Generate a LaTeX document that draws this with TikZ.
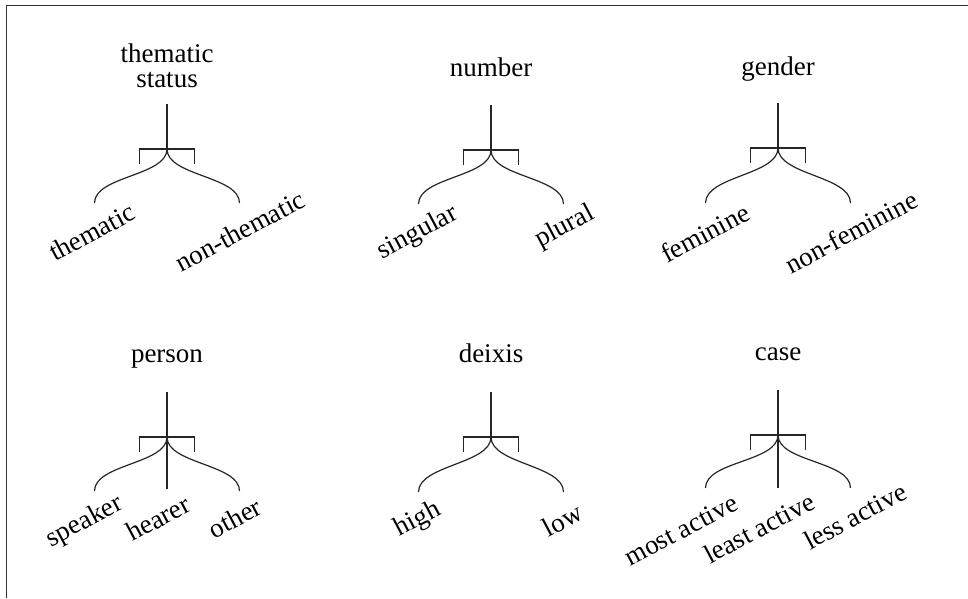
\documentclass[tikz,border=0pt]{standalone}
\usepackage{fontspec}
\setmainfont{Liberation Serif}
\tikzset{
  treeline/.style={line width=1.2pt, draw=black!85},
  framestyle/.style={line width=1.6pt, draw=black!80},
  head/.style={inner sep=0pt, anchor=base, align=center, font=\fontsize{27}{25}\selectfont},
  lbl/.style={inner sep=0pt, rotate=28, font=\fontsize{27}{27}\selectfont}
}
\newcommand\brtree[4]{% name, x, bracket y, curve end y
  \coordinate (#1top) at (#2,#3-45);
  \coordinate (#1j) at (#2,#3);
  \coordinate (#1bl) at (#2-27.5,#3);
  \coordinate (#1br) at (#2+27.5,#3);
  \coordinate (#1tl) at (#2-27.5,#3+15);
  \coordinate (#1tr) at (#2+27.5,#3+15);
  \coordinate (#1l) at (#2-72.5,#4);
  \coordinate (#1r) at (#2+72.5,#4);
  \draw[treeline] (#1top) -- (#1j);
  \draw[treeline] (#1tl) -- (#1bl) -- (#1br) -- (#1tr);
  \draw[treeline] (#1j) .. controls +(0,27) and +(0,-27) .. (#1l);
  \draw[treeline] (#1j) .. controls +(0,27) and +(0,-27) .. (#1r);
}
\begin{document}
\begin{tikzpicture}[x=1pt,y=-1pt]
\useasboundingbox (0,0) rectangle (968,598);
% frame
\coordinate (fa) at (6.5,598);
\coordinate (fb) at (6.5,5.5);
\coordinate (fc) at (968,5.5);
\draw[framestyle] (fa) -- (fb) -- (fc);

% top row
\node[head] (h1) at (167,87) {thematic\\status};
\brtree{a}{167}{149}{203}
\node[lbl] (a1) at (92,232) {thematic};
\node[lbl] (a2) at (240,231) {non-thematic};

\node[head] (h2) at (491,76) {number};
\brtree{b}{491}{150}{204}
\node[lbl] (b1) at (418,233) {singular};
\node[lbl] (b2) at (565,227) {plural};

\node[head] (h3) at (778,75) {gender};
\brtree{c}{778}{148}{203}
\node[lbl] (c1) at (705,233) {feminine};
\node[lbl] (c2) at (851,232) {non-feminine};

% bottom row
\node[head] (h4) at (167,362) {person};
\brtree{d}{167}{437}{491}
\coordinate (dm) at (167,489);
\draw[treeline] (dj) -- (dm);
\node[lbl] (d1) at (85,522) {speaker};
\node[lbl] (d2) at (158,518) {hearer};
\node[lbl] (d3) at (235,518) {other};

\node[head] (h5) at (491,362) {deixis};
\brtree{e}{491}{437}{492}
\node[lbl] (e1) at (418,520) {high};
\node[lbl] (e2) at (562,520) {low};

\node[head] (h6) at (778,360) {case};
\brtree{f}{778}{435}{488}
\coordinate (fm) at (778,488);
\draw[treeline] (fj) -- (fm);
\node[lbl] (f1) at (681,530) {most active};
\node[lbl] (f2) at (759,528) {least active};
\node[lbl] (f3) at (855,516) {less active};
\end{tikzpicture}
\end{document}
